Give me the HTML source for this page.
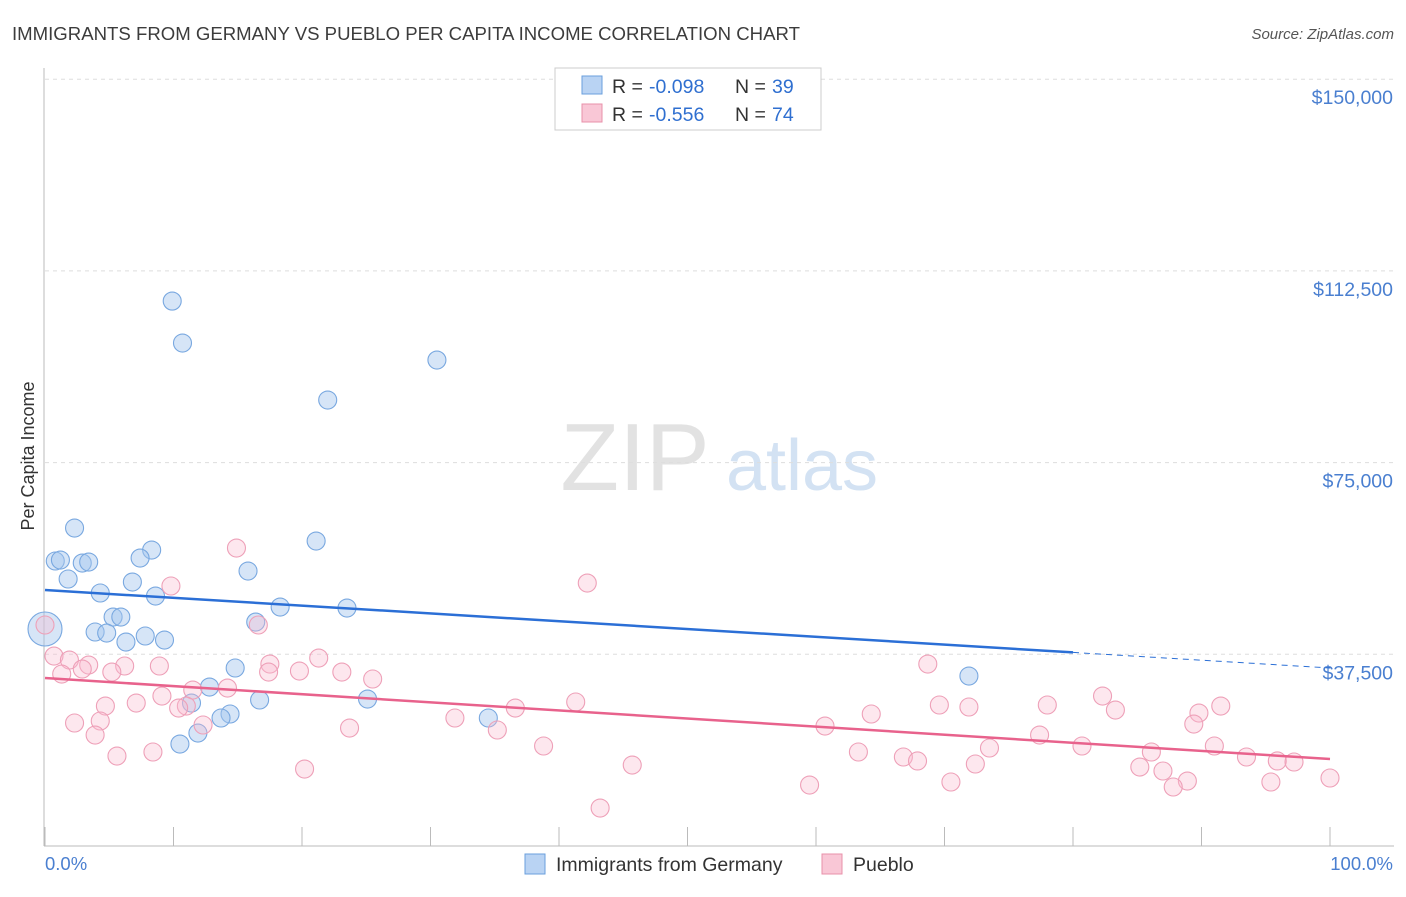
<!DOCTYPE html>
<html><head><meta charset="utf-8"><style>
body{margin:0;background:#fff;font-family:"Liberation Sans",sans-serif;}
svg text{font-family:"Liberation Sans",sans-serif;}
</style></head><body>
<svg id="chart" width="1406" height="892" xmlns="http://www.w3.org/2000/svg">
<text x="12" y="40" font-size="18.6" fill="#3c3c3c">IMMIGRANTS FROM GERMANY VS PUEBLO PER CAPITA INCOME CORRELATION CHART</text>
<text x="1394" y="39" font-size="15" fill="#555" text-anchor="end" font-style="italic">Source: ZipAtlas.com</text>
<text transform="translate(34,456) rotate(-90)" font-size="18" fill="#333" text-anchor="middle">Per Capita Income</text>
<g>
<text x="635" y="490" font-size="96" fill="#e2e2e2" text-anchor="middle" font-family="Liberation Serif, serif">ZIP</text>
<text x="802" y="490" font-size="72" fill="#d3e2f3" text-anchor="middle">atlas</text>
</g>
<g id="grid"></g><g id="axes"></g><g id="pts"></g><g id="trend"></g>
<g>
<rect x="555" y="68" width="266" height="62" fill="#fff" stroke="#ccc"/>
<rect x="582" y="76" width="20" height="18" fill="#b9d3f3" stroke="#6a9fdc"/>
<text x="612" y="93" font-size="19.5" fill="#333">R =</text>
<text x="649" y="93" font-size="19.5" fill="#2f6fd0">-0.098</text>
<text x="735" y="93" font-size="19.5" fill="#333">N =</text>
<text x="772" y="93" font-size="19.5" fill="#2f6fd0">39</text>
<rect x="582" y="104" width="20" height="18" fill="#f9c7d6" stroke="#e890aa"/>
<text x="612" y="121" font-size="19.5" fill="#333">R =</text>
<text x="649" y="121" font-size="19.5" fill="#2f6fd0">-0.556</text>
<text x="735" y="121" font-size="19.5" fill="#333">N =</text>
<text x="772" y="121" font-size="19.5" fill="#2f6fd0">74</text>
</g>
<g>
<rect x="525" y="854" width="20" height="20" fill="#b9d3f3" stroke="#6a9fdc"/>
<text x="556" y="871" font-size="19.5" fill="#333">Immigrants from Germany</text>
<rect x="822" y="854" width="20" height="20" fill="#f9c7d6" stroke="#e890aa"/>
<text x="853" y="871" font-size="19.5" fill="#333">Pueblo</text>
</g>
<text x="45" y="870" font-size="18.5" fill="#4a7fd0">0.0%</text>
<text x="1393" y="870" font-size="18.5" fill="#4a7fd0" text-anchor="end">100.0%</text>
</svg>
<script>
const yTicks=[37500,75000,112500,150000];
const yTickLabels=["$37,500","$75,000","$112,500","$150,000"];
const xTicks=[0,10,20,30,40,50,60,70,80,90,100];
const germanyX=[9.9,10.7,30.5,22.0,2.3,0.8,1.2,2.9,3.4,8.3,7.4,21.1,15.8,1.8,6.8,4.3,8.6,18.3,23.5,5.3,5.9,16.4,0,3.9,4.8,7.8,9.3,6.3,71.9,14.8,12.8,11.4,16.7,25.1,14.4,13.7,34.5,11.9,10.5];
const germanyY=[106600,98390,95060,87240,62200,55750,55940,55350,55550,57900,56330,59660,53790,52230,51640,49490,48900,46750,46550,44790,44790,43810,42450,41860,41660,41080,40290,39900,33250,34820,31100,27970,28560,28750,25820,25040,25040,22100,19950];
const puebloX=[14.9,42.2,9.8,16.6,0,68.7,0.7,1.9,3.4,6.2,8.9,17.5,21.3,1.3,2.9,5.2,17.4,19.8,23.1,25.5,11.5,14.2,9.1,7.1,4.7,11.0,10.4,82.3,78.0,69.6,71.9,91.5,83.3,89.8,41.3,36.6,64.3,31.9,2.3,4.3,12.3,23.7,35.2,60.7,89.4,3.9,77.4,80.7,38.8,8.4,73.5,5.6,63.3,66.8,91.0,86.1,93.5,67.9,72.4,95.9,97.2,45.7,20.2,85.2,87.0,88.9,100,95.4,70.5,59.5,87.8,43.2];
const puebloY=[58290,51440,50860,43230,43230,35600,37160,36380,35400,35210,35210,35600,36770,33640,34620,34030,34030,34230,34030,32670,30510,30900,29340,27970,27380,27380,26990,29340,27580,27580,27190,27380,26600,26010,28170,26990,25820,25040,24060,24450,23670,23080,22690,23470,23860,21710,21710,19560,19560,18390,19170,17600,18390,17410,19560,18390,17410,16630,16040,16630,16430,15840,15060,15450,14670,12710,13300,12520,12520,11930,11540,7430];
const germanyTrend=[50070,34820];
const puebloTrend=[32860,17020];
const X=v=>45+v*12.85, Y=v=>846-v/37500*191.7;
const NS="http://www.w3.org/2000/svg";
function mk(tag,attrs,parent){const e=document.createElementNS(NS,tag);for(const k in attrs)e.setAttribute(k,attrs[k]);document.getElementById(parent).appendChild(e);return e;}
yTicks.forEach((t,i)=>{
 const l=mk('line',{x1:45,x2:1394,y1:Y(t),y2:Y(t),stroke:'#ddd','stroke-dasharray':'4,4'},'grid');
 
 
 const tx=mk('text',{x:1393,y:Y(t)+25,'font-size':19.5,fill:'#4a7fd0','text-anchor':'end'},'grid');tx.textContent=yTickLabels[i];
 
 
});
const ya=mk('line',{x1:44,x2:44,y1:68,y2:846,stroke:'#bbb'},'axes');


const xa=mk('line',{x1:44,x2:1394,y1:846,y2:846,stroke:'#bbb'},'axes');


xTicks.forEach(t=>{const l=mk('line',{x1:X(t),x2:X(t),y1:827,y2:846,stroke:'#bbb'},'axes');
 
 });
germanyX.forEach((x,i)=>{const c=mk('circle',{cx:X(x),cy:Y(germanyY[i]),r:(x===0?17:9),fill:'rgba(165,198,238,0.45)',stroke:'#79a8e0','stroke-width':1.1},'pts');
 
 });
puebloX.forEach((x,i)=>{const c=mk('circle',{cx:X(x),cy:Y(puebloY[i]),r:9,fill:'rgba(248,185,205,0.35)',stroke:'#eea0b8','stroke-width':1.1},'pts');
 
 });
const gAt=p=>germanyTrend[0]+(germanyTrend[1]-germanyTrend[0])*p/100;
const g1=mk('line',{x1:X(0),y1:Y(gAt(0)),x2:X(80),y2:Y(gAt(80)),stroke:'#2b6fd6','stroke-width':2.5},'trend');


const g2=mk('line',{x1:X(80),y1:Y(gAt(80)),x2:X(100),y2:Y(gAt(100)),stroke:'#2b6fd6','stroke-width':1,'stroke-dasharray':'6,5'},'trend');


const p1=mk('line',{x1:X(0),y1:Y(puebloTrend[0]),x2:X(100),y2:Y(puebloTrend[1]),stroke:'#e8628c','stroke-width':2.5},'trend');


</script>
</body></html>
